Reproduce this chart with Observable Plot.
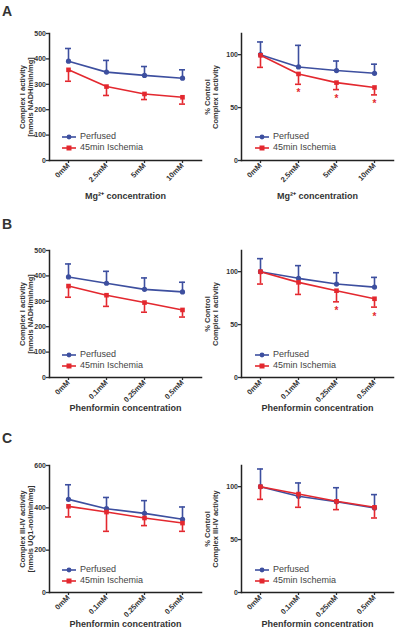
<!DOCTYPE html>
<html><head><meta charset="utf-8">
<script src="https://cdn.jsdelivr.net/npm/d3@7"></script>
<script src="https://cdn.jsdelivr.net/npm/@observablehq/plot@0.6"></script>
<style>
body{margin:0;background:#fff;}
#fig{position:relative;width:400px;height:635px;font-family:"Liberation Sans",Arial,sans-serif;overflow:hidden;}
.panel{position:absolute;}
.panel svg{overflow:visible;}
.letter{position:absolute;font-weight:bold;font-size:14px;color:#333;line-height:1;}
.leg{position:absolute;font-size:9px;color:#444;line-height:11px;white-space:nowrap;}
.leg div{display:flex;align-items:center;height:11px;}
.leg svg{margin-right:4px;}
</style>
</head><body>
<div id="fig"></div>
<script>
// ---------- data ----------
const catsMg = ["0mM", "2.5mM", "5mM", "10mM"];
const catsPhen = ["0mM", "0.1mM", "0.25mM", "0.5mM"];
const seriesNames = ["Perfused", "45min Ischemia"];

// Panel A (Mg2+)
const aAbsPerf = [391, 348, 335, 324];
const aAbsPerfHi = [441, 394, 370, 357];
const aAbsIsch = [357, 291, 262, 249];
const aAbsIschLo = [312, 256, 240, 222];
const aPctPerf = [100, 88.4, 85, 82.4];
const aPctPerfHi = [112, 108.8, 94, 91];
const aPctIsch = [99.4, 81.8, 73.6, 69];
const aPctIschLo = [88, 72, 67, 62];
const aStarCats = ["2.5mM", "5mM", "10mM"];
const aStarY = [64, 58, 54];

// Panel B (Phenformin, Complex I)
const bAbsPerf = [396, 371, 347, 337];
const bAbsPerfHi = [447, 418, 392, 375];
const bAbsIsch = [360, 324, 295, 266];
const bAbsIschLo = [316, 280, 257, 238];
const bPctPerf = [100, 93.7, 88.3, 85.4];
const bPctPerfHi = [112.3, 105.7, 99, 94.6];
const bPctIsch = [100, 89.9, 82, 74.4];
const bPctIschLo = [88.3, 78.5, 71.5, 66.5];
const bStarCats = ["0.25mM", "0.5mM"];
const bStarY = [62.7, 57];

// Panel C (Phenformin, Complex III-IV)
const cAbsPerf = [440, 396, 374, 346];
const cAbsPerfHi = [509, 449, 434, 404];
const cAbsIsch = [407, 380, 352, 328];
const cAbsIschLo = [357, 289, 316, 289];
const cPctPerf = [100, 90.9, 85.8, 79.9];
const cPctPerfHi = [116.7, 103.5, 99, 92.5];
const cPctIsch = [100, 93, 86.2, 80.5];
const cPctIschLo = [88, 80.5, 78.3, 70.4];

const absTicks500 = [0, 100, 200, 300, 400, 500];
const absTicks600 = [0, 200, 400, 600];
const pctTicks = [0, 50, 100];

// ---------- styles ----------
const BLUE = "#3d4f9f";
const RED = "#e3282f";
const FONT = "'Liberation Sans', Arial, sans-serif";
const fig = document.getElementById("fig");

function panel(o) {
  const rows = o.cats.map((c, i) => ({c, perf: o.perf[i], perfHi: o.perfHi[i], isch: o.isch[i], ischLo: o.ischLo[i]}));
  const stars = (o.starCats || []).map((c, i) => ({c, y: o.starY[i]}));
  const plot = Plot.plot({
    width: o.width, height: o.height,
    marginLeft: o.mL, marginRight: o.mR, marginTop: o.mT, marginBottom: o.mB,
    style: {fontFamily: FONT, fontSize: "7px", fontWeight: "bold", color: "#333", background: "transparent", overflow: "visible"},
    x: {type: "point", domain: o.cats, padding: 0.5},
    y: {domain: [0, o.yMax]},
    marks: [
      Plot.axisY({ticks: o.yTicks, tickSize: 3, tickPadding: 0.5, tickFormat: d => String(d), label: null, strokeWidth: 1.3, fontSize: 7}),
      Plot.axisX({tickRotate: -45, tickSize: 3, tickPadding: 1, label: null, strokeWidth: 1.3, fontSize: 7.5}),
      Plot.frame({anchor: "left", stroke: "#222", strokeWidth: 1.5}),
      Plot.frame({anchor: "bottom", stroke: "#222", strokeWidth: 1.5}),
      // Perfused
      Plot.ruleX(rows, {x: "c", y1: "perf", y2: "perfHi", stroke: BLUE, strokeWidth: 1.6}),
      Plot.ruleY(rows, {y: "perfHi", x1: "c", x2: "c", stroke: BLUE, strokeWidth: 1.6, insetLeft: -3, insetRight: -3}),
      Plot.line(rows, {x: "c", y: "perf", stroke: BLUE, strokeWidth: 1.6}),
      Plot.dot(rows, {x: "c", y: "perf", fill: BLUE, r: 2.6}),
      // Ischemia
      Plot.ruleX(rows, {x: "c", y1: "isch", y2: "ischLo", stroke: RED, strokeWidth: 1.6}),
      Plot.ruleY(rows, {y: "ischLo", x1: "c", x2: "c", stroke: RED, strokeWidth: 1.6, insetLeft: -3, insetRight: -3}),
      Plot.line(rows, {x: "c", y: "isch", stroke: RED, strokeWidth: 1.6}),
      Plot.dot(rows, {x: "c", y: "isch", fill: RED, symbol: "square", r: 2.6}),
      Plot.text(stars, {x: "c", y: "y", text: () => "*", fill: RED, fontSize: 10, fontWeight: "bold"}),
      Plot.text([o.yLabel], {frameAnchor: "left", textAnchor: "middle", rotate: -90, dx: o.yLabelDx, lineAnchor: "middle", lineHeight: 1, fontSize: 7.5, fontWeight: "bold", fill: "#333"}),
      Plot.text([o.xLabel], {frameAnchor: "bottom", dy: o.xLabelDy, fontSize: 9, fontWeight: "bold", fill: "#333"})
    ]
  });
  const d = document.createElement("div");
  d.className = "panel";
  d.style.left = o.left + "px";
  d.style.top = o.top + "px";
  d.appendChild(plot);
  fig.appendChild(d);

  // legend (inside plot area)
  const lg = document.createElement("div");
  lg.className = "leg";
  lg.style.left = o.legX + "px";
  lg.style.top = o.legY + "px";
  const mk = (color, square) => `<svg width="14" height="8"><line x1="0" x2="14" y1="4" y2="4" stroke="${color}" stroke-width="1.6"/>` +
    (square ? `<rect x="4.5" y="1.5" width="5" height="5" fill="${color}"/>` : `<circle cx="7" cy="4" r="2.4" fill="${color}"/>`) + `</svg>`;
  lg.innerHTML = `<div>${mk(BLUE, false)}<span>${seriesNames[0]}</span></div><div>${mk(RED, true)}<span>${seriesNames[1]}</span></div>`;
  fig.appendChild(lg);
}

function letter(t, x, y) {
  const el = document.createElement("div");
  el.className = "letter";
  el.textContent = t;
  el.style.left = x + "px";
  el.style.top = y + "px";
  fig.appendChild(el);
}

const L = {left: 0, width: 205, mL: 49, mR: 4, yLabelDx: -23};
const R = {left: 200, width: 200, mL: 41, mR: 7, yLabelDx: -30};

// Row A
panel({...L, top: 20, height: 190, mT: 13, mB: 50, cats: catsMg, yMax: 500, yTicks: absTicks500,
  perf: aAbsPerf, perfHi: aAbsPerfHi, isch: aAbsIsch, ischLo: aAbsIschLo,
  yLabel: "Complex I activity\n[nmols NADH/min/mg]", xLabel: "Mg²⁺ concentration", xLabelDy: 38, legX: 62, legY: 131});
panel({...R, top: 20, height: 190, mT: 13, mB: 50, cats: catsMg, yMax: 120, yTicks: pctTicks,
  perf: aPctPerf, perfHi: aPctPerfHi, isch: aPctIsch, ischLo: aPctIschLo, starCats: aStarCats, starY: aStarY,
  yLabel: "% Control\nComplex I activity", xLabel: "Mg²⁺ concentration", xLabelDy: 38, legX: 255, legY: 131});

// Row B
panel({...L, top: 235, height: 185, mT: 15, mB: 43, cats: catsPhen, yMax: 500, yTicks: absTicks500,
  perf: bAbsPerf, perfHi: bAbsPerfHi, isch: bAbsIsch, ischLo: bAbsIschLo,
  yLabel: "Complex I activity\n[nmols NADH/min/mg]", xLabel: "Phenformin concentration", xLabelDy: 33, legX: 62, legY: 349});
panel({...R, top: 235, height: 185, mT: 15, mB: 43, cats: catsPhen, yMax: 120, yTicks: pctTicks,
  perf: bPctPerf, perfHi: bPctPerfHi, isch: bPctIsch, ischLo: bPctIschLo, starCats: bStarCats, starY: bStarY,
  yLabel: "% Control\nComplex I activity", xLabel: "Phenformin concentration", xLabelDy: 33, legX: 255, legY: 349});

// Row C
panel({...L, top: 445, height: 190, mT: 20, mB: 43, cats: catsPhen, yMax: 600, yTicks: absTicks600,
  perf: cAbsPerf, perfHi: cAbsPerfHi, isch: cAbsIsch, ischLo: cAbsIschLo,
  yLabel: "Complex III-IV activity\n[nmols UQ1-nol/min/mg]", xLabel: "Phenformin concentration", xLabelDy: 34, legX: 62, legY: 564});
panel({...R, top: 445, height: 190, mT: 20, mB: 43, cats: catsPhen, yMax: 120, yTicks: pctTicks,
  perf: cPctPerf, perfHi: cPctPerfHi, isch: cPctIsch, ischLo: cPctIschLo,
  yLabel: "% Control\nComplex III-IV activity", xLabel: "Phenformin concentration", xLabelDy: 34, legX: 255, legY: 564});

letter("A", 2, 4);
letter("B", 2, 217);
letter("C", 2, 431);
</script>
</body></html>
